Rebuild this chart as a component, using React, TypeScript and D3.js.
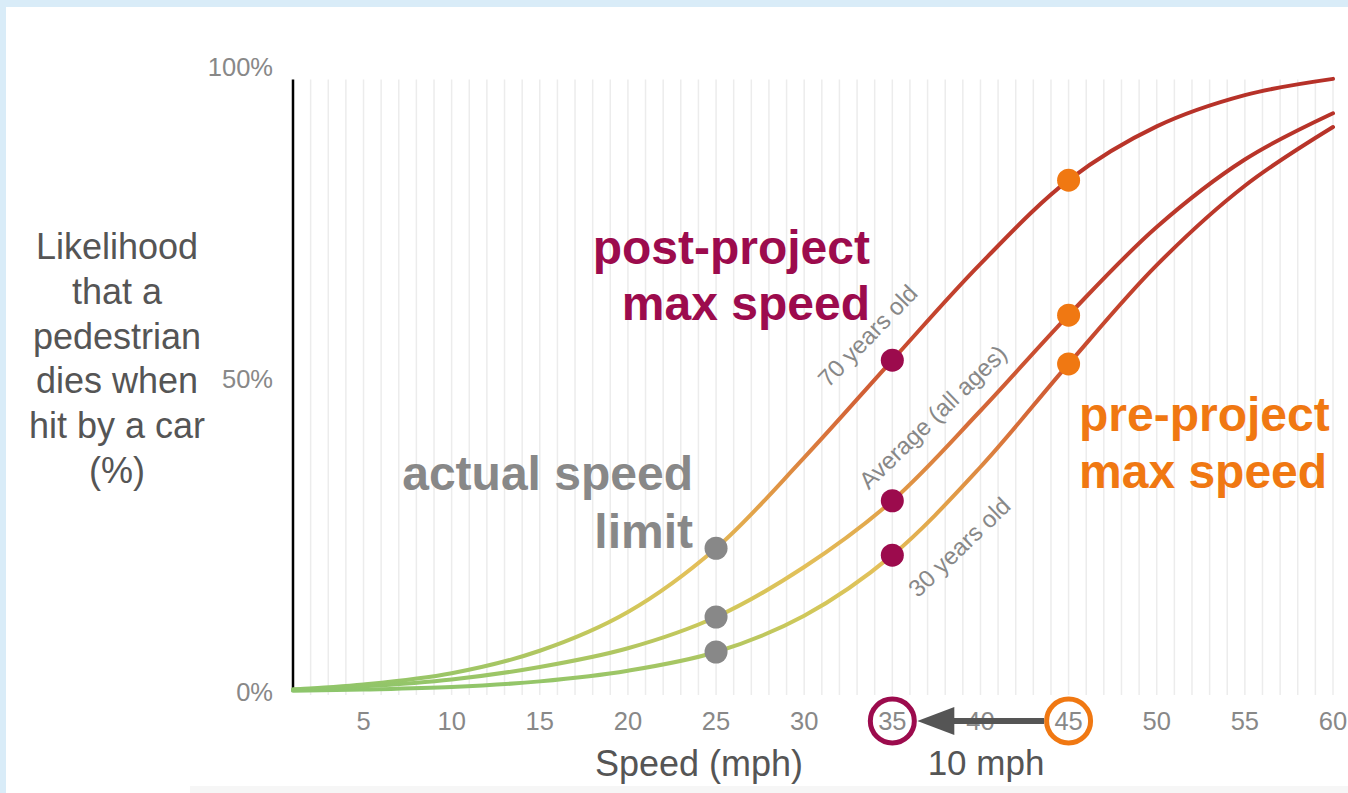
import React from "react";
import * as d3 from "d3";

const speeds = [1, 5, 10, 15, 20, 25, 30, 35, 40, 45, 50, 55, 60];
const age70 = [0.004, 0.012, 0.03, 0.066, 0.128, 0.23, 0.375, 0.531, 0.685, 0.819, 0.905, 0.955, 0.981];
const ageAvg = [0.004, 0.009, 0.02, 0.04, 0.07, 0.12, 0.2, 0.306, 0.45, 0.603, 0.744, 0.852, 0.926];
const age30 = [0.002, 0.004, 0.008, 0.017, 0.034, 0.064, 0.122, 0.219, 0.36, 0.525, 0.683, 0.81, 0.904];

const xTicks = [5, 10, 15, 20, 25, 30, 35, 40, 45, 50, 55, 60];
const yTicks = [0, 0.5, 1];
const yTickLabels = ["0%", "50%", "100%"];

const actualSpeed = 25;
const postSpeed = 35;
const preSpeed = 45;

const curveLabels = [
  { text: "70 years old", speed: 33.6, value: 0.57, angle: -46 },
  { text: "Average (all ages)", speed: 37.3, value: 0.44, angle: -44 },
  { text: "30 years old", speed: 38.8, value: 0.232, angle: -44 },
];

const yTitleLines = ["Likelihood", "that a", "pedestrian", "dies when", "hit by a car", "(%)"];

const gradStops = [
  { v: 0, c: "#8cc56b" },
  { v: 0.05, c: "#a8c663" },
  { v: 0.12, c: "#cfc85a" },
  { v: 0.2, c: "#e3c05a" },
  { v: 0.3, c: "#e2a048" },
  { v: 0.42, c: "#d8703a" },
  { v: 0.56, c: "#c84a2f" },
  { v: 0.7, c: "#bd3a2b" },
  { v: 1, c: "#b53028" },
];

const CRIMSON = "#9c0b4d";
const ORANGE = "#f07812";
const GRAY = "#888888";
const FONT = "'Liberation Sans', Arial, Helvetica, sans-serif";

export default function App() {
  const W = 1348;
  const H = 793;
  const x = d3.scaleLinear().domain([1, 60]).range([293, 1333]);
  const y = d3.scaleLinear().domain([0, 1]).range([692, 67]);
  const series = [age70, ageAvg, age30];
  const line = d3
    .line<number>()
    .x((_, i) => x(speeds[i]))
    .y((d) => y(d))
    .curve(d3.curveCatmullRom.alpha(0.5));
  const gridTop = y(0.98);
  const gridSpeeds = d3.range(2, 61);
  const idx = (s: number) => speeds.indexOf(s);
  const ringY = 721;
  const ringR = 22;

  return (
    <svg width={W} height={H} style={{ position: "absolute", left: 0, top: 0 }} fontFamily={FONT}>
      <defs>
        <linearGradient id="curveGrad" gradientUnits="userSpaceOnUse" x1={0} x2={0} y1={y(0)} y2={y(1)}>
          {gradStops.map((s, i) => (
            <stop key={i} offset={s.v} stopColor={s.c} />
          ))}
        </linearGradient>
      </defs>
      <rect x={0} y={0} width={W} height={H} fill="#d9ecf8" />
      <rect x={6} y={7} width={W - 6} height={H - 7} fill="#ffffff" />
      <rect x={190} y={786} width={W - 190} height={7} fill="#f6f6f6" />

      {gridSpeeds.map((s) => (
        <line key={s} x1={x(s)} x2={x(s)} y1={gridTop} y2={y(0) + 3} stroke="#ececec" strokeWidth={1.5} />
      ))}
      <line x1={x(1)} x2={x(1)} y1={gridTop} y2={y(0)} stroke="#000" strokeWidth={2.5} />

      {yTicks.map((t, i) => (
        <text key={t} x={273} y={y(t)} dy="0.35em" textAnchor="end" fontSize={25.5} fill={GRAY}>
          {yTickLabels[i]}
        </text>
      ))}
      {xTicks.map((t) => (
        <text key={t} x={x(t)} y={721} dy="0.35em" textAnchor="middle" fontSize={25.5} fill={GRAY}>
          {t}
        </text>
      ))}

      {series.map((s, i) => (
        <path key={i} d={line(s) || ""} fill="none" stroke="url(#curveGrad)" strokeWidth={4} strokeLinecap="round" />
      ))}

      {curveLabels.map((l) => (
        <text
          key={l.text}
          transform={`translate(${x(l.speed)},${y(l.value)}) rotate(${l.angle})`}
          textAnchor="middle"
          dy="0.35em"
          fontSize={24}
          fill={GRAY}
        >
          {l.text}
        </text>
      ))}

      {series.map((s, i) => (
        <circle key={"a" + i} cx={x(actualSpeed)} cy={y(s[idx(actualSpeed)])} r={11.5} fill={GRAY} />
      ))}
      {series.map((s, i) => (
        <circle key={"p" + i} cx={x(postSpeed)} cy={y(s[idx(postSpeed)])} r={11.5} fill={CRIMSON} />
      ))}
      {series.map((s, i) => (
        <circle key={"r" + i} cx={x(preSpeed)} cy={y(s[idx(preSpeed)])} r={11.5} fill={ORANGE} />
      ))}

      <text fontSize={48} fontWeight="bold" fill={CRIMSON} textAnchor="end">
        <tspan x={870} y={264}>post-project</tspan>
        <tspan x={870} y={320}>max speed</tspan>
      </text>
      <text fontSize={48} fontWeight="bold" fill={GRAY} textAnchor="end">
        <tspan x={693} y={490}>actual speed</tspan>
        <tspan x={693} y={548}>limit</tspan>
      </text>
      <text fontSize={48} fontWeight="bold" fill={ORANGE} textAnchor="start">
        <tspan x={1079} y={431}>pre-project</tspan>
        <tspan x={1079} y={488}>max speed</tspan>
      </text>

      <text fontSize={36} fill="#555555" textAnchor="middle">
        {yTitleLines.map((l, i) => (
          <tspan key={i} x={117} y={259 + i * 44.8}>
            {l}
          </tspan>
        ))}
      </text>

      <text x={699} y={776} fontSize={36} fill="#555555" textAnchor="middle">
        Speed (mph)
      </text>
      <text x={986} y={775} fontSize={35} fill="#555555" textAnchor="middle">
        10 mph
      </text>

      <circle cx={x(postSpeed)} cy={ringY} r={ringR} fill="none" stroke={CRIMSON} strokeWidth={5} />
      <circle cx={x(preSpeed)} cy={ringY} r={ringR} fill="none" stroke={ORANGE} strokeWidth={5} />
      <line x1={x(preSpeed) - ringR - 2.5} x2={x(postSpeed) + 60} y1={ringY} y2={ringY} stroke="#555555" strokeWidth={6} />
      <polygon
        points={`${x(postSpeed) + ringR + 3},${ringY} ${x(postSpeed) + 62},${ringY - 14} ${x(postSpeed) + 62},${ringY + 14}`}
        fill="#555555"
      />
    </svg>
  );
}
